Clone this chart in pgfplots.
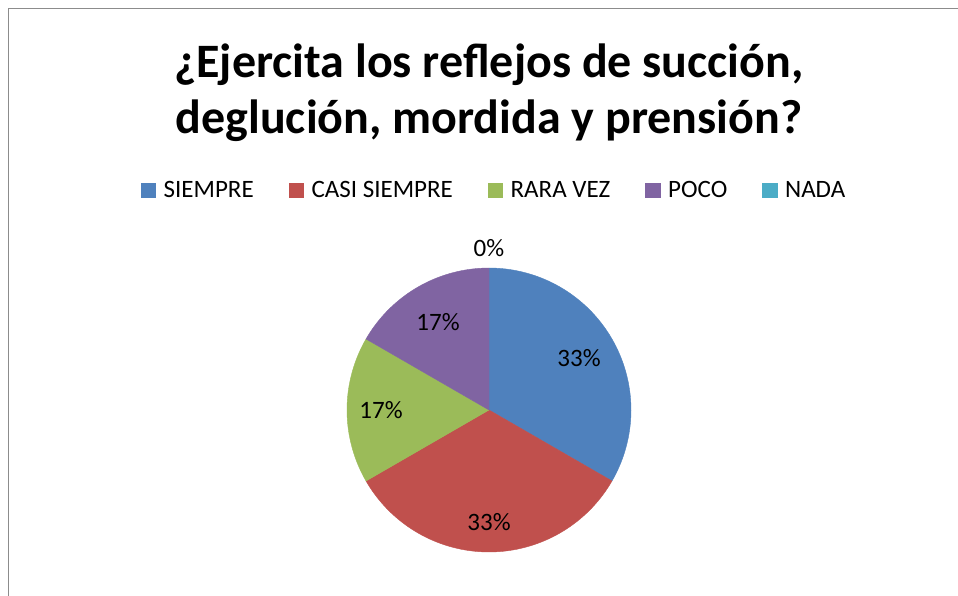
\documentclass[border=0pt]{standalone}
\usepackage{pgfplots}
\pgfplotsset{compat=1.18}
\usepackage{fontspec}
\setmainfont{Carlito}
\definecolor{cA}{HTML}{4F81BD}
\definecolor{cB}{HTML}{C0504D}
\definecolor{cC}{HTML}{9BBB59}
\definecolor{cD}{HTML}{8064A2}
\definecolor{cE}{HTML}{4BACC6}
% percentages of the slices (SIEMPRE, CASI SIEMPRE, RARA VEZ, POCO, NADA)
\def\pA{33.3333}\def\pB{33.3333}\def\pC{16.6667}\def\pD{16.6667}\def\pE{0}
\begin{document}
\begin{tikzpicture}
\useasboundingbox (0,0) rectangle (958pt,596pt);
\fill[white] (0,0) rectangle (958pt,596pt);
\draw[draw=black!45, line width=1.5pt] (8.5pt,0pt) -- (8.5pt,587.5pt) -- (958pt,587.5pt);
\begin{axis}[at={(0,0)}, anchor=south west, x=1pt, y=1pt, y dir=reverse,
  xmin=0, xmax=958, ymin=0, ymax=596, hide axis, clip=false,
  legend columns=5,
  legend image code/.code={\fill[#1] (0pt,-7.2pt) rectangle (14.4pt,7.2pt);},
  legend style={at={(axis description cs:0.5157,0.681)}, anchor=center,
    draw=none, fill=none, font=\fontsize{25}{30}\selectfont,
    /tikz/every odd column/.append style={column sep=6pt},
    /tikz/every even column/.append style={column sep=33pt}},
  ]
% slices, clockwise from the top
\pgfmathsetmacro{\aA}{90}
\pgfmathsetmacro{\aB}{\aA-3.6*\pA}
\pgfmathsetmacro{\aC}{\aB-3.6*\pB}
\pgfmathsetmacro{\aD}{\aC-3.6*\pC}
\pgfmathsetmacro{\aE}{\aD-3.6*\pD}
\addplot[forget plot, fill=cA, draw=cA, line width=0.4pt, domain=\aA:\aB, samples=90, variable=\t]
  ({489+142*cos(\t)},{410-142*sin(\t)}) -- (axis cs:489,410) -- cycle;
\addplot[forget plot, fill=cB, draw=cB, line width=0.4pt, domain=\aB:\aC, samples=90, variable=\t]
  ({489+142*cos(\t)},{410-142*sin(\t)}) -- (axis cs:489,410) -- cycle;
\addplot[forget plot, fill=cC, draw=cC, line width=0.4pt, domain=\aC:\aD, samples=50, variable=\t]
  ({489+142*cos(\t)},{410-142*sin(\t)}) -- (axis cs:489,410) -- cycle;
\addplot[forget plot, fill=cD, draw=cD, line width=0.4pt, domain=\aD:\aE, samples=50, variable=\t]
  ({489+142*cos(\t)},{410-142*sin(\t)}) -- (axis cs:489,410) -- cycle;
\addlegendimage{cA}\addlegendentry{SIEMPRE}
\addlegendimage{cB}\addlegendentry{CASI SIEMPRE}
\addlegendimage{cC}\addlegendentry{RARA VEZ}
\addlegendimage{cD}\addlegendentry{POCO}
\addlegendimage{cE}\addlegendentry{NADA}
% data labels
\begin{scope}[every node/.style={font=\fontsize{25}{30}\selectfont, inner sep=0pt}]
\node at (axis cs:{489+104*cos((\aA+\aB)/2)},{410-104*sin((\aA+\aB)/2)}) {33\%};
\node at (axis cs:{489+112*cos((\aB+\aC)/2)},{410-112*sin((\aB+\aC)/2)}) {33\%};
\node at (axis cs:{489+108*cos((\aC+\aD)/2)},{410-108*sin((\aC+\aD)/2)}) {17\%};
\node at (axis cs:{489+102*cos((\aD+\aE)/2)},{410-102*sin((\aD+\aE)/2)}) {17\%};
\node at (axis cs:{489+162*cos(\aE)},{410-162*sin(\aE)}) {0\%};
\end{scope}
% title
\node[align=center, font=\fontsize{48}{56}\selectfont\bfseries, anchor=base, inner sep=0pt] at (axis cs:489,134)
  {¿Ejercita los reflejos de succión,\\deglución, mordida y prensión?};
\end{axis}
\end{tikzpicture}
\end{document}
